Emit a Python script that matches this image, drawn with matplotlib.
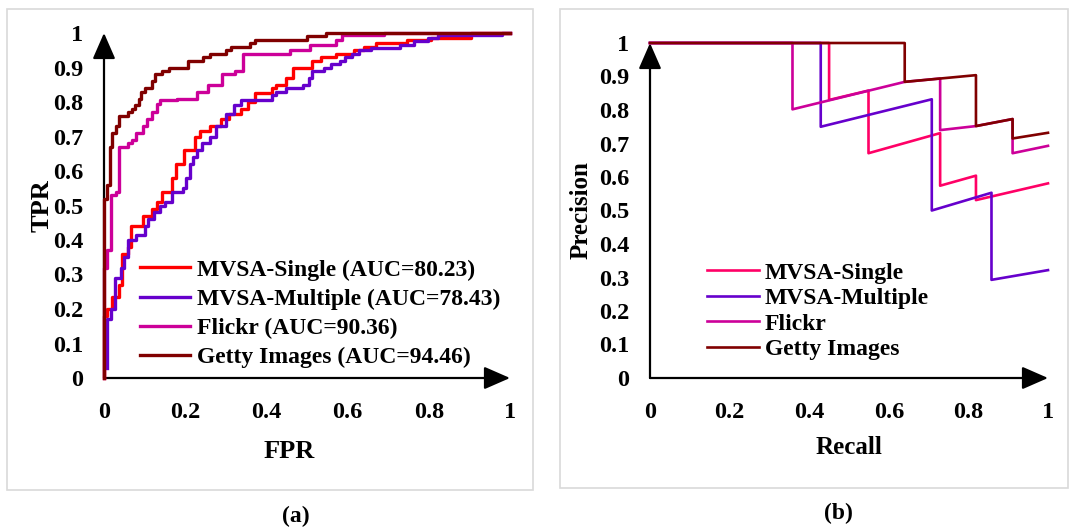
import matplotlib
matplotlib.use("Agg")
import matplotlib.pyplot as plt
from matplotlib.patches import Rectangle

plt.rcParams['font.family'] = ['Liberation Serif', 'DejaVu Serif']
plt.rcParams['font.weight'] = 'bold'

# ---------------- data: ROC (panel a) ----------------
roc_names = ["MVSA-Single (AUC=80.23)", "MVSA-Multiple (AUC=78.43)",
             "Flickr (AUC=90.36)", "Getty Images (AUC=94.46)"]

single_fpr = [0.0, 0.0, 0.007, 0.02, 0.037, 0.045, 0.058, 0.066, 0.096, 0.117, 0.13, 0.143,
              0.168, 0.177, 0.198, 0.224, 0.236, 0.262, 0.287, 0.309, 0.338, 0.355, 0.372,
              0.415, 0.423, 0.449, 0.466, 0.513, 0.534, 0.572, 0.615, 0.64, 0.67, 0.747,
              0.806, 0.904, 1.0]
single_tpr = [0.0, 0.18, 0.20, 0.235, 0.27, 0.36, 0.38, 0.44, 0.47, 0.49, 0.51, 0.54,
              0.58, 0.62, 0.66, 0.70, 0.715, 0.73, 0.75, 0.765, 0.78, 0.80, 0.825,
              0.84, 0.85, 0.87, 0.90, 0.92, 0.93, 0.94, 0.95, 0.96, 0.97, 0.98,
              0.985, 1.0, 1.0]

multi_fpr = [0.0085, 0.0085, 0.017, 0.028, 0.041, 0.049, 0.058, 0.079, 0.10, 0.109, 0.122,
             0.139, 0.151, 0.168, 0.194, 0.202, 0.211, 0.219, 0.228, 0.241, 0.262, 0.275,
             0.30, 0.321, 0.338, 0.415, 0.423, 0.449, 0.491, 0.504, 0.513, 0.543, 0.56,
             0.581, 0.594, 0.611, 0.628, 0.657, 0.73, 0.764, 0.798, 0.823, 0.98, 1.0]
multi_tpr = [0.03, 0.17, 0.20, 0.29, 0.32, 0.35, 0.40, 0.415, 0.44, 0.46, 0.48,
             0.50, 0.51, 0.54, 0.55, 0.58, 0.62, 0.64, 0.66, 0.68, 0.70, 0.73,
             0.766, 0.79, 0.805, 0.82, 0.83, 0.84, 0.85, 0.87, 0.89, 0.90, 0.91,
             0.92, 0.93, 0.94, 0.95, 0.956, 0.966, 0.976, 0.985, 0.995, 1.0, 1.0]

flickr_fpr = [0.0, 0.0, 0.008, 0.018, 0.03, 0.037, 0.058, 0.07, 0.08, 0.095, 0.105, 0.117,
              0.13, 0.138, 0.18, 0.23, 0.255, 0.29, 0.323, 0.343, 0.457, 0.508, 0.572,
              0.585, 0.69, 1.0]
flickr_tpr = [0.0, 0.32, 0.37, 0.53, 0.54, 0.67, 0.68, 0.69, 0.71, 0.73, 0.75, 0.77,
              0.795, 0.805, 0.81, 0.83, 0.85, 0.88, 0.89, 0.94, 0.95, 0.965, 0.98,
              0.995, 1.0, 1.0]

getty_fpr = [0.0, 0.0, 0.007, 0.014, 0.02, 0.03, 0.037, 0.058, 0.07, 0.077, 0.085, 0.092,
             0.10, 0.117, 0.126, 0.143, 0.16, 0.207, 0.245, 0.262, 0.30, 0.313, 0.36,
             0.372, 0.50, 0.547, 1.0]
getty_tpr = [0.0, 0.52, 0.56, 0.67, 0.71, 0.73, 0.76, 0.77, 0.78, 0.79, 0.81, 0.83,
             0.84, 0.86, 0.88, 0.89, 0.90, 0.92, 0.93, 0.94, 0.95, 0.96, 0.97,
             0.98, 0.99, 1.0, 1.0]

# ---------------- data: Precision-Recall (panel b) ----------------
pr_names = ["MVSA-Single", "MVSA-Multiple", "Flickr", "Getty Images"]

single_rec = [0.0, 0.45, 0.45, 0.549, 0.549, 0.729, 0.729, 0.819, 0.819, 1.0]
single_prec = [1.0, 1.0, 0.83, 0.858, 0.671, 0.731, 0.574, 0.604, 0.531, 0.581]

multi_rec = [0.0, 0.429, 0.429, 0.708, 0.708, 0.858, 0.858, 1.0]
multi_prec = [1.0, 1.0, 0.75, 0.832, 0.50, 0.553, 0.293, 0.322]

flickr_rec = [0.0, 0.358, 0.358, 0.64, 0.729, 0.729, 0.819, 0.911, 0.911, 1.0]
flickr_prec = [1.0, 1.0, 0.802, 0.884, 0.894, 0.740, 0.752, 0.773, 0.671, 0.693]

getty_rec = [0.0, 0.64, 0.64, 0.819, 0.819, 0.911, 0.911, 1.0]
getty_prec = [1.0, 1.0, 0.884, 0.904, 0.752, 0.773, 0.715, 0.732]

yticks = [0, 0.1, 0.2, 0.3, 0.4, 0.5, 0.6, 0.7, 0.8, 0.9, 1]
ytick_labels = ["0", "0.1", "0.2", "0.3", "0.4", "0.5", "0.6", "0.7", "0.8", "0.9", "1"]
xticks = [0, 0.2, 0.4, 0.6, 0.8, 1]
xtick_labels = ["0", "0.2", "0.4", "0.6", "0.8", "1"]

roc_colors = ["#FF0000", "#6600CC", "#CC0099", "#800000"]
pr_colors = ["#FF0066", "#6600CC", "#CC0099", "#800000"]

W, H = 1072, 529
fig = plt.figure(figsize=(W / 100, H / 100), dpi=100)

# panel frames
fig.add_artist(Rectangle((7 / W, 1 - 490 / H), (533 - 7) / W, (490 - 9) / H,
                         transform=fig.transFigure, fill=False, ec="#D9D9D9", lw=1.2))
fig.add_artist(Rectangle((560 / W, 1 - 488 / H), (1068 - 560) / W, (488 - 9) / H,
                         transform=fig.transFigure, fill=False, ec="#D9D9D9", lw=1.2))

TICK_FS = 17.5


def setup_axes(ax):
    ax.set_xlim(0, 1)
    ax.set_ylim(0, 1)
    for s in ax.spines.values():
        s.set_visible(False)
    ax.set_xticks(xticks)
    ax.set_xticklabels(xtick_labels)
    ax.set_yticks(yticks)
    ax.set_yticklabels(ytick_labels)
    ax.tick_params(axis='both', length=0, labelsize=TICK_FS)
    ax.tick_params(axis='y', pad=15)
    ax.tick_params(axis='x', pad=17)
    ax.patch.set_alpha(0)
    ax.annotate('', xy=(1.0, 0), xytext=(0, 0), xycoords='axes fraction',
                arrowprops=dict(arrowstyle='-|>,head_length=0.8,head_width=0.35',
                                color='black', lw=1.6, shrinkA=0, shrinkB=0,
                                mutation_scale=20), zorder=1)
    ax.annotate('', xy=(0, 1.0), xytext=(0, 0), xycoords='axes fraction',
                arrowprops=dict(arrowstyle='-|>,head_length=0.8,head_width=0.35',
                                color='black', lw=1.6, shrinkA=0, shrinkB=0,
                                mutation_scale=20), zorder=1)


# ---------------- panel (a) ----------------
axa = fig.add_axes([104 / W, 1 - 378 / H, 406 / W, 345 / H])
setup_axes(axa)
roc = [(single_fpr, single_tpr), (multi_fpr, multi_tpr),
       (flickr_fpr, flickr_tpr), (getty_fpr, getty_tpr)]
for (fx, ty), c, n in zip(roc, roc_colors, roc_names):
    axa.step(fx, ty, where='post', color=c, lw=2.4, label=n, clip_on=False, zorder=3)
axa.legend(loc='upper left', bbox_to_anchor=((140 - 104) / 406, (378 - 259) / 345),
           frameon=False, fontsize=17, handlelength=2.1, handletextpad=0.3,
           labelspacing=0.33, borderpad=0, borderaxespad=0)
axa.text(-62 / 406, 0.5, "TPR", rotation=90, ha='center', va='center',
         fontsize=19, transform=axa.transAxes)
axa.text((289 - 104) / 406, (378 - 452) / 345, "FPR", ha='center', va='center',
         fontsize=19, transform=axa.transAxes)

# ---------------- panel (b) ----------------
axb = fig.add_axes([650 / W, 1 - 378 / H, 398 / W, 335 / H])
setup_axes(axb)
prs = [(single_rec, single_prec), (multi_rec, multi_prec),
       (flickr_rec, flickr_prec), (getty_rec, getty_prec)]
for (rx, py), c, n in zip(prs, pr_colors, pr_names):
    axb.plot(rx, py, color=c, lw=1.9, label=n, clip_on=False, zorder=3)
axb.legend(loc='upper left', bbox_to_anchor=((707 - 650) / 398, (378 - 262) / 335),
           frameon=False, fontsize=17, handlelength=2.2, handletextpad=0.25,
           labelspacing=0.17, borderpad=0, borderaxespad=0)
axb.text((581 - 650) / 398, 0.5, "Precision", rotation=90, ha='center', va='center',
         fontsize=18, transform=axb.transAxes)
axb.text(0.5, (378 - 448) / 335, "Recall", ha='center', va='center',
         fontsize=18, transform=axb.transAxes)

fig.text(296 / W, 1 - 516 / H, "(a)", ha='center', va='center', fontsize=17)
fig.text(838 / W, 1 - 513 / H, "(b)", ha='center', va='center', fontsize=17)

fig.savefig("out.png", dpi=100)
